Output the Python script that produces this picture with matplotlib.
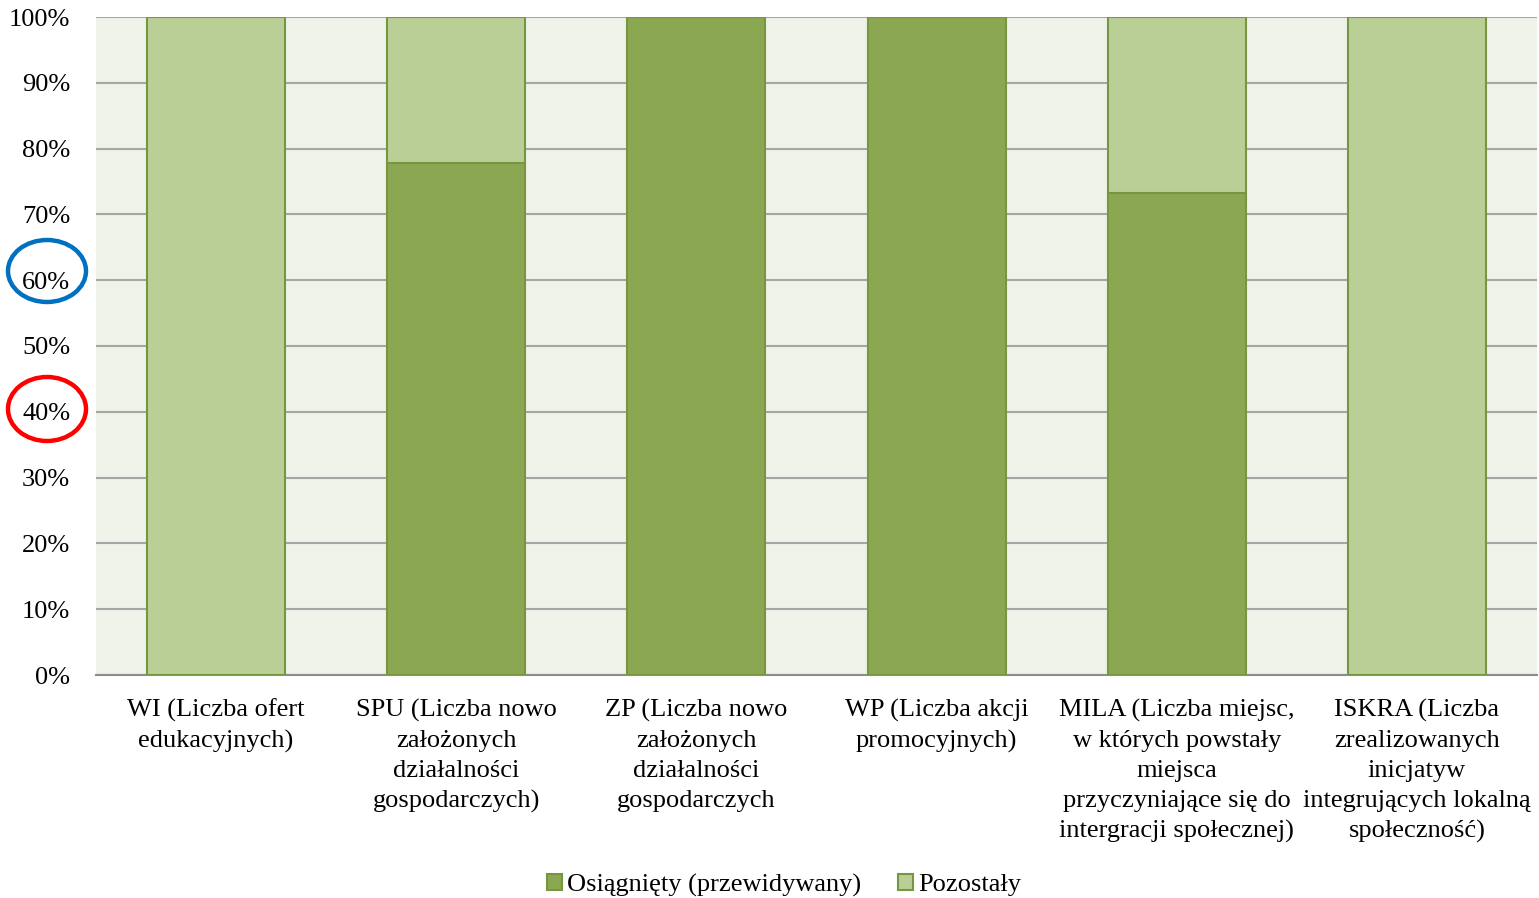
import matplotlib
matplotlib.use("Agg")
import matplotlib.pyplot as plt
from matplotlib.patches import Ellipse
import numpy as np

categories = [
    "WI (Liczba ofert\nedukacyjnych)",
    "SPU (Liczba nowo\nzałożonych\ndziałalności\ngospodarczych)",
    "ZP (Liczba nowo\nzałożonych\ndziałalności\ngospodarczych",
    "WP (Liczba akcji\npromocyjnych)",
    "MILA (Liczba miejsc,\nw których powstały\nmiejsca\nprzyczyniające się do\nintergracji społecznej)",
    "ISKRA (Liczba\nzrealizowanych\ninicjatyw\nintegrujących lokalną\nspołeczność)",
]
achieved = [0.0, 77.8, 100.0, 100.0, 73.3, 0.0]
remaining = [100.0, 22.2, 0.0, 0.0, 26.7, 100.0]
series_names = ["Osiągnięty (przewidywany)", "Pozostały"]
yticks = [0, 10, 20, 30, 40, 50, 60, 70, 80, 90, 100]

plt.rcParams['font.family'] = ['Liberation Serif', 'DejaVu Serif']

fig = plt.figure(figsize=(15.39, 8.98), dpi=100)
ax = fig.add_axes([96/1539, 1 - 675/898, (1537-96)/1539, (675-17)/898])
ax.set_facecolor('#EFF2E8')

x = np.arange(len(categories))
w = 0.575
dark = '#8BA752'
light = '#BACF96'
edge = '#76963F'
ax.bar(x, achieved, w, color=dark, edgecolor=edge, linewidth=1.5, label=series_names[0], zorder=3)
ax.bar(x, remaining, w, bottom=achieved, color=light, edgecolor=edge, linewidth=1.5, label=series_names[1], zorder=3)

ax.set_xlim(-0.5, len(categories) - 0.5)
ax.set_ylim(0, 100)
ax.set_yticks(yticks)
ax.set_yticklabels([f"{v}%" for v in yticks], fontsize=19)
ax.yaxis.grid(True, color='#A6A6A6', linewidth=1.5, zorder=0)
ax.set_axisbelow(True)
ax.tick_params(axis='y', length=0, pad=18.5)
ax.set_xticks(x)
ax.set_xticklabels(categories, fontsize=19, linespacing=1.47)
ax.tick_params(axis='x', length=0, pad=17)
for s in ['left', 'right', 'top']:
    ax.spines[s].set_visible(False)
ax.spines['bottom'].set_color('#8C8C8C')
ax.spines['bottom'].set_linewidth(1.5)

leg = fig.legend(loc='center', bbox_to_anchor=(784/1539, 1 - 885/898), ncol=2, frameon=False,
                 fontsize=19, handlelength=0.55, handleheight=0.55, handletextpad=0.2, columnspacing=1.4)

# annotation circles
def fx(px):
    return px / 1539
def fy(py):
    return 1 - py / 898
fig.add_artist(Ellipse((fx(47), fy(271)), 78/1539, 62/898, transform=fig.transFigure,
                       fill=False, edgecolor='#0070C0', linewidth=3.2))
fig.add_artist(Ellipse((fx(47), fy(409)), 78/1539, 64/898, transform=fig.transFigure,
                       fill=False, edgecolor='#FF0000', linewidth=3.2))

fig.savefig("out.png", dpi=100)
